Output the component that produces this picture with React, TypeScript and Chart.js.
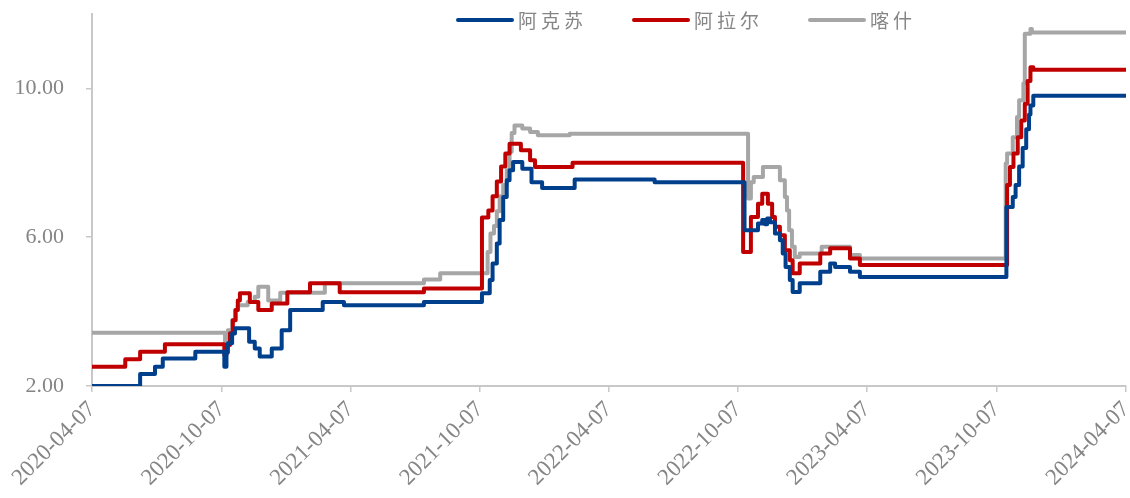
import React, { useEffect, useRef } from "react";
import { Chart, registerables } from "chart.js";

Chart.register(...registerables);

const START_DATE = "2020-04-07";
const tickDates = [
  "2020-04-07", "2020-10-07", "2021-04-07", "2021-10-07", "2022-04-07",
  "2022-10-07", "2023-04-07", "2023-10-07", "2024-04-07",
];
const yTickValues = [2, 6, 10];

const seriesNames = ["阿克苏", "阿拉尔", "喀什"];
const seriesColors = ["#003f8c", "#c00000", "#a6a6a6"];

const aksuDates = [
  "2020-04-07", "2020-06-14", "2020-07-05", "2020-07-16", "2020-08-31", "2020-10-11",
  "2020-10-14", "2020-10-16", "2020-10-22", "2020-10-26", "2020-11-15", "2020-11-23",
  "2020-11-30", "2020-12-17", "2020-12-31", "2021-01-12", "2021-02-27", "2021-03-29",
  "2021-07-20", "2021-10-10", "2021-10-21", "2021-10-25", "2021-10-31", "2021-11-04",
  "2021-11-09", "2021-11-14", "2021-11-18", "2021-11-23", "2021-12-06", "2021-12-19",
  "2022-01-03", "2022-02-18", "2022-06-11", "2022-10-16", "2022-11-04", "2022-11-10",
  "2022-11-14", "2022-11-17", "2022-11-21", "2022-11-28", "2022-12-05", "2022-12-09",
  "2022-12-13", "2022-12-19", "2022-12-23", "2023-01-02", "2023-01-31", "2023-02-14",
  "2023-02-21", "2023-03-14", "2023-03-28", "2023-10-21", "2023-10-30", "2023-11-03",
  "2023-11-08", "2023-11-13", "2023-11-18", "2023-11-22", "2023-11-24", "2023-11-28",
  "2024-04-07",
];
const aksuValues = [
  2.0, 2.32, 2.52, 2.74, 2.92, 2.52,
  2.9, 3.15, 3.41, 3.55, 3.19, 3.01,
  2.79, 3.01, 3.5, 4.04, 4.26, 4.17,
  4.26, 4.49, 4.85, 5.29, 5.83, 6.46,
  7.08, 7.53, 7.8, 8.02, 7.84, 7.48,
  7.32, 7.55, 7.48, 6.19, 6.37, 6.46,
  6.35, 6.5, 6.4, 6.1, 5.92, 5.56,
  5.2, 4.85, 4.53, 4.76, 5.07, 5.29,
  5.2, 5.07, 4.93, 6.81, 7.08, 7.4,
  7.9, 8.4, 8.9, 9.3, 9.54, 9.8,
  9.8,
];

const alarDates = [
  "2020-04-07", "2020-05-24", "2020-06-14", "2020-07-19", "2020-10-11", "2020-10-14",
  "2020-10-19", "2020-10-23", "2020-10-27", "2020-10-30", "2020-11-02", "2020-11-16",
  "2020-11-28", "2020-12-17", "2021-01-08", "2021-02-09", "2021-03-23", "2021-07-20",
  "2021-10-10", "2021-10-19", "2021-10-25", "2021-10-31", "2021-11-06", "2021-11-12",
  "2021-11-18", "2021-12-04", "2021-12-17", "2021-12-24", "2022-02-15", "2022-10-14",
  "2022-10-25", "2022-11-04", "2022-11-10", "2022-11-18", "2022-11-24", "2022-11-28",
  "2022-12-05", "2022-12-12", "2022-12-19", "2022-12-23", "2023-01-02", "2023-01-31",
  "2023-02-14", "2023-03-14", "2023-03-28", "2023-10-22", "2023-10-26", "2023-10-31",
  "2023-11-06", "2023-11-11", "2023-11-16", "2023-11-20", "2023-11-24", "2023-11-28",
  "2024-04-07",
];
const alarValues = [
  2.52, 2.72, 2.92, 3.12, 2.83, 3.1,
  3.42, 3.77, 4.04, 4.3, 4.49, 4.26,
  4.04, 4.22, 4.52, 4.76, 4.52, 4.62,
  6.53, 6.72, 7.1, 7.5, 7.9, 8.25,
  8.51, 8.34, 8.07, 7.89, 8.0, 5.6,
  6.54, 6.9, 7.17, 6.9, 6.54, 6.28,
  6.05, 5.65, 5.38, 5.03, 5.29, 5.56,
  5.7, 5.43, 5.25, 7.4, 7.89, 8.25,
  8.69, 9.14, 9.59, 10.2, 10.57, 10.5,
  10.5,
];

const kashiDates = [
  "2020-04-07", "2020-10-12", "2020-10-16", "2020-10-22", "2020-10-26", "2020-10-30",
  "2020-11-13", "2020-11-23", "2020-11-28", "2020-12-12", "2020-12-29", "2021-03-02",
  "2021-07-20", "2021-08-12", "2021-10-18", "2021-10-22", "2021-10-27", "2021-10-31",
  "2021-11-04", "2021-11-09", "2021-11-14", "2021-11-18", "2021-11-21", "2021-11-25",
  "2021-12-06", "2021-12-17", "2021-12-28", "2022-02-11", "2022-10-21", "2022-10-25",
  "2022-10-29", "2022-11-11", "2022-12-05", "2022-12-12", "2022-12-15", "2022-12-18",
  "2022-12-22", "2022-12-26", "2023-01-02", "2023-02-02", "2023-03-14", "2023-03-28",
  "2023-10-20", "2023-10-22", "2023-10-30", "2023-11-05", "2023-11-08", "2023-11-14",
  "2023-11-16", "2023-11-24", "2023-11-26", "2024-04-07",
];
const kashiValues = [
  3.43, 3.05, 3.5, 3.77, 4.04, 4.17,
  4.26, 4.4, 4.67, 4.3, 4.51, 4.76,
  4.86, 5.03, 5.6, 6.1, 6.3, 6.7,
  7.1, 7.4, 7.8, 8.3, 8.8, 9.0,
  8.92, 8.83, 8.74, 8.78, 7.04, 7.48,
  7.62, 7.89, 7.53, 7.08, 6.72, 6.19,
  5.74, 5.47, 5.56, 5.74, 5.52, 5.43,
  7.98, 8.25, 8.69, 9.23, 9.68, 10.13,
  11.47, 11.6, 11.5, 11.5,
];

function dayIndex(s: string): number {
  const [y, m, d] = s.split("-").map(Number);
  const [y0, m0, d0] = START_DATE.split("-").map(Number);
  return Math.round((Date.UTC(y, m - 1, d) - Date.UTC(y0, m0 - 1, d0)) / 86400000);
}

function toPoints(dates: string[], values: number[]) {
  return dates.map((dt, i) => ({ x: dayIndex(dt), y: values[i] }));
}

const tickDays = tickDates.map(dayIndex);

const customLegend = {
  id: "customLegend",
  afterDraw(chart: any) {
    const ctx = chart.ctx;
    const area = chart.chartArea;
    ctx.save();
    ctx.font = '19px "Noto Sans CJK SC", sans-serif';
    try { (ctx as any).letterSpacing = "4px"; } catch (e) {}
    ctx.textBaseline = "middle";
    ctx.textAlign = "left";
    let x = area.left + 366;
    const y = 20;
    chart.data.datasets.forEach((ds: any) => {
      ctx.strokeStyle = ds.borderColor;
      ctx.lineWidth = 4;
      ctx.lineCap = "round";
      ctx.beginPath();
      ctx.moveTo(x, y);
      ctx.lineTo(x + 54, y);
      ctx.stroke();
      ctx.fillStyle = "#858585";
      ctx.fillText(ds.label, x + 60, y + 1);
      x += 176;
    });
    ctx.restore();
  },
};

export default function App() {
  const canvasRef = useRef<HTMLCanvasElement | null>(null);

  useEffect(() => {
    if (!canvasRef.current) return;
    const datasets = [
      toPoints(aksuDates, aksuValues),
      toPoints(alarDates, alarValues),
      toPoints(kashiDates, kashiValues),
    ].map((pts, i) => ({
      label: seriesNames[i],
      data: pts,
      borderColor: seriesColors[i],
      backgroundColor: seriesColors[i],
      borderWidth: 4,
      borderJoinStyle: "round" as const,
      borderCapStyle: "round" as const,
      pointRadius: 0,
      stepped: "before" as const,
      fill: false,
    }));

    const chart = new Chart(canvasRef.current, {
      type: "line",
      data: { datasets },
      plugins: [customLegend],
      options: {
        animation: false,
        responsive: false,
        layout: { padding: { top: 14, right: 4, left: 0, bottom: 0 } },
        plugins: {
          legend: { display: false },
          tooltip: { enabled: false },
        },
        scales: {
          x: {
            type: "linear",
            min: 0,
            max: tickDays[tickDays.length - 1],
            afterBuildTicks: (scale: any) => {
              scale.ticks = tickDays.map((v) => ({ value: v }));
            },
            afterFit: (scale: any) => {
              scale.height = 112;
              scale.paddingLeft = 0;
              scale.paddingRight = 0;
            },
            ticks: {
              autoSkip: false,
              minRotation: 45,
              maxRotation: 45,
              padding: 4,
              color: "#858585",
              font: { family: '"Liberation Serif", serif', size: 23 },
              callback: (value: any) => {
                const i = tickDays.indexOf(Number(value));
                return i >= 0 ? tickDates[i] : "";
              },
            },
            grid: {
              drawOnChartArea: false,
              drawTicks: true,
              tickLength: 6,
              color: "#c8c8c8",
              lineWidth: 1.5,
            },
            border: { display: true, color: "#c8c8c8", width: 2 },
          },
          y: {
            type: "linear",
            min: 2,
            max: 12,
            afterBuildTicks: (scale: any) => {
              scale.ticks = yTickValues.map((v) => ({ value: v }));
            },
            afterFit: (scale: any) => {
              scale.width = 92;
              scale.paddingTop = 0;
              scale.paddingBottom = 0;
            },
            ticks: {
              padding: 22,
              color: "#858585",
              font: { family: '"Liberation Serif", serif', size: 22 },
              callback: (value: any) => Number(value).toFixed(2),
            },
            grid: {
              drawOnChartArea: false,
              drawTicks: true,
              tickLength: 6,
              color: "#c8c8c8",
              lineWidth: 1.5,
            },
            border: { display: true, color: "#c8c8c8", width: 2 },
          },
        },
      },
    });
    return () => chart.destroy();
  }, []);

  return (
    <div style={{ position: "absolute", left: 0, top: 0, width: 1130, height: 498, background: "#ffffff" }}>
      <canvas ref={canvasRef} width={1130} height={498} />
    </div>
  );
}
